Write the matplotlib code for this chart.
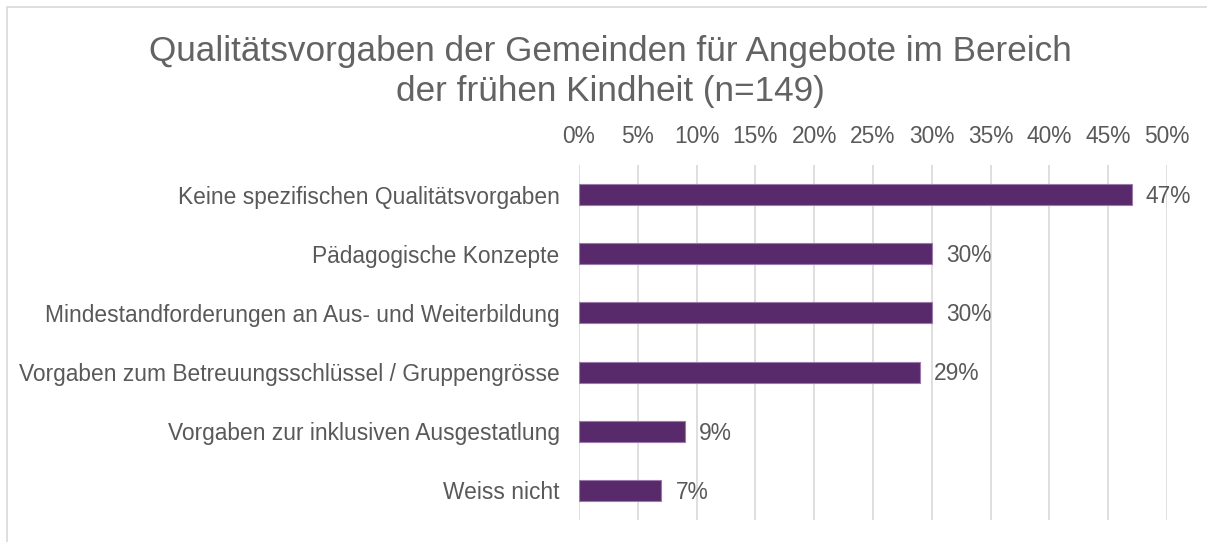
import matplotlib
matplotlib.use("Agg")
import matplotlib.pyplot as plt
from matplotlib.patches import Rectangle
from matplotlib.ticker import MultipleLocator, FuncFormatter

plt.rcParams['font.family'] = ['Liberation Sans', 'DejaVu Sans']

categories = [
    "Keine spezifischen Qualitätsvorgaben",
    "Pädagogische Konzepte",
    "Mindestandforderungen an Aus- und Weiterbildung",
    "Vorgaben zum Betreuungsschlüssel / Gruppengrösse",
    "Vorgaben zur inklusiven Ausgestatlung",
    "Weiss nicht",
]
values = [47, 30, 30, 29, 9, 7]
labels = ["47%", "30%", "30%", "29%", "9%", "7%"]

text_col = "#595959"
grid_col = "#d9d9d9"
bar_col = "#582a6b"

fig = plt.figure(figsize=(12.07, 5.42), dpi=100)
ax = fig.add_axes([0.4797, 0.0406, 0.4872, 0.655])

y = list(range(len(categories)))
ax.barh(y, values, height=0.355, color=bar_col, edgecolor="#9b7aab", linewidth=0.8, zorder=3)
ax.set_ylim(len(categories) - 0.5, -0.5)
ax.set_xlim(0, 50)
ax.set_yticks(y)
ax.set_yticklabels(categories, fontsize=16.4, color=text_col)

ax.xaxis.set_major_locator(MultipleLocator(5))
ax.xaxis.set_major_formatter(FuncFormatter(lambda v, p: f"{v:.0f}%"))
ax.xaxis.tick_top()
ax.tick_params(axis='x', labelsize=16.4, labelcolor=text_col, length=0, pad=12)
ax.tick_params(axis='y', length=0, pad=14)
ax.grid(axis='x', color=grid_col, linewidth=1.2, zorder=0)
for s in ax.spines.values():
    s.set_visible(False)

# value labels next to the bars
for yi, v, lab in zip(y, values, labels):
    ax.text(v + 1.2, yi + 0.03, lab, va='center', ha='left', fontsize=16.4, color=text_col)

fig.text(0.506, 0.868, "Qualitätsvorgaben der Gemeinden für Angebote im Bereich\nder frühen Kindheit (n=149)",
         ha='center', va='center', fontsize=25.3, color="#636363", linespacing=1.25)

fig.patches.append(Rectangle((0.006, -0.05), 1.05, 1.037, transform=fig.transFigure,
                             fill=False, edgecolor=grid_col, linewidth=1.2))

fig.savefig("out.png", dpi=100)
